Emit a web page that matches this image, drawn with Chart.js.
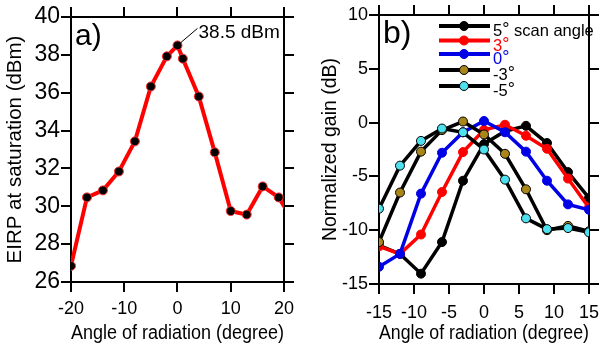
<!DOCTYPE html>
<html>
<head>
<meta charset="utf-8">
<script src="https://cdn.jsdelivr.net/npm/chart.js@4.4.0/dist/chart.umd.min.js"></script>
<style>
  html, body { margin: 0; padding: 0; background: #fff; }
  .panel { position: absolute; top: 0; height: 346px; }
  #boxA { left: 0; width: 300px; }
  #boxB { left: 300px; width: 307px; }
</style>
</head>
<body>
<div class="panel" id="boxA"><canvas id="chartA"></canvas></div>
<div class="panel" id="boxB"><canvas id="chartB"></canvas></div>
<script>
// --- Data panel a) ---
const anglesA = [-20, -17, -14, -11, -8, -5, -2, 0, 1, 4, 7, 10, 13, 16, 19, 22];
const eirp    = [26.85, 30.47, 30.84, 31.84, 33.43, 36.33, 37.92, 38.5, 37.8, 35.8, 32.85, 29.75, 29.56, 31.05, 30.47, 29.1];
const ticksA_x = [-20, -10, 0, 10, 20];
const ticksA_y = [26, 28, 30, 32, 34, 36, 38, 40];

// --- Data panel b) ---
const anglesB = [-15, -12, -9, -6, -3, 0, 3, 6, 9, 12, 15];
const scan5   = [-11.4, -12.2, -14.04, -11.1, -5.4, -2.0, -0.8, -0.3, -1.9, -4.6, -7.0];
const scan3   = [-11.5, -12.2, -10.4, -6.45, -2.74, -0.67, -0.2, -1.22, -2.43, -5.2, -7.9];
const scan0   = [-13.4, -12.2, -6.6, -2.8, -0.9, 0.15, -0.9, -2.7, -5.4, -7.6, -8.1];
const scanM3  = [-11.1, -6.5, -2.7, -0.7, 0.1, -1.1, -2.9, -6.2, -10.0, -9.6, -10.1];
const scanM5  = [-8.0, -4.0, -1.7, -0.55, -0.9, -2.5, -5.3, -8.9, -9.9, -9.8, -10.2];
const legendLabels = ['5', '3', '0', '-3', '-5'];
const ticksB_x = [-15, -10, -5, 0, 5, 10, 15];
const ticksB_y = [-15, -10, -5, 0, 5, 10];

const FONT = 'Liberation Sans, Arial, sans-serif';

function toPoints(xs, ys) {
    return xs.map((x, i) => ({ x: x, y: ys[i] }));
}

// fixed tick list from the arrays
function fixedTicks(list) {
    return function (scale) {
        scale.ticks = list.map(v => ({ value: v }));
    };
}

function sizeTo(px) {
    return function (scale) {
        if (scale.isHorizontal()) scale.height = px;
        else scale.width = px;
    };
}

// common axis style: outward ticks, no grid in the plot
function axis(extra) {
    const base = {
        type: 'linear',
        grid: { drawOnChartArea: false, color: '#000', lineWidth: 2, tickLength: 10 },
        border: { display: true, color: '#000', width: 2 },
        ticks: { color: '#000' }
    };
    return Object.assign(base, extra);
}

// --- Panel label / annotation plugin ---
const panelText = {
    id: 'panelText',
    afterDraw(chart, args, opts) {
        const ctx = chart.ctx;
        const area = chart.chartArea;
        ctx.save();
        ctx.fillStyle = '#000';
        ctx.textBaseline = 'alphabetic';
        ctx.font = opts.size + 'px ' + FONT;
        ctx.fillText(opts.label, area.left + opts.dx, area.top + opts.dy);

        if (opts.peak) {
            const px = chart.scales.x.getPixelForValue(opts.peak.x);
            const py = chart.scales.y.getPixelForValue(opts.peak.y);
            ctx.strokeStyle = '#000';
            ctx.lineWidth = 1;
            ctx.beginPath();
            ctx.moveTo(px, py);
            ctx.lineTo(px + 20, py - 17);
            ctx.stroke();
            ctx.font = '19px ' + FONT;
            ctx.fillText(opts.peak.text, px + 21, py - 7);
        }
        ctx.restore();
    }
};

// --- Legend for panel b) drawn at the top of the plot ---
const legendB = {
    id: 'legendB',
    afterDraw(chart) {
        const ctx = chart.ctx;
        const area = chart.chartArea;
        const rows = [11, 25.5, 39, 55, 71];
        const x0 = area.left + 60, x1 = area.left + 111, xm = area.left + 85;
        ctx.save();
        chart.data.datasets.forEach((ds, i) => {
            const y = area.top + rows[i];
            ctx.strokeStyle = ds.borderColor;
            ctx.lineWidth = 4;
            ctx.beginPath();
            ctx.moveTo(x0, y);
            ctx.lineTo(x1, y);
            ctx.stroke();
            ctx.beginPath();
            ctx.arc(xm, y, 4.5, 0, Math.PI * 2);
            ctx.fillStyle = ds.pointBackgroundColor;
            ctx.fill();
            ctx.lineWidth = 1;
            ctx.strokeStyle = ds.pointBorderColor;
            ctx.stroke();

            const tx = area.left + 114;
            const ty = y + 10;
            ctx.fillStyle = ds.textColor;
            ctx.font = '16.5px ' + FONT;
            ctx.textBaseline = 'alphabetic';
            ctx.fillText(legendLabels[i], tx, ty);
            let w = ctx.measureText(legendLabels[i]).width;
            ctx.font = '18px ' + FONT;
            ctx.fillText('°', tx + w, ty - 1);
            w += ctx.measureText('°').width;
            if (i === 0) {
                ctx.font = '16.5px ' + FONT;
                ctx.fillText(' scan angle', tx + w, ty);
            }
        });
        ctx.restore();
    }
};

Chart.defaults.font.family = FONT;
Chart.defaults.color = '#000';
Chart.defaults.animation = false;

// --- Chart a) ---
new Chart(document.getElementById('chartA'), {
    type: 'line',
    data: {
        datasets: [{
            data: toPoints(anglesA, eirp),
            borderColor: '#ff0000',
            borderWidth: 4,
            pointRadius: 4.5,
            pointBackgroundColor: '#000',
            pointBorderColor: '#ff3030',
            pointBorderWidth: 1,
            tension: 0
        }]
    },
    options: {
        responsive: true,
        maintainAspectRatio: false,
        layout: { padding: 0 },
        plugins: {
            legend: { display: false },
            tooltip: { enabled: false },
            panelText: { label: 'a)', size: 30, dx: 4, dy: 28,
                         peak: { x: 0, y: 38.5, text: '38.5 dBm' } }
        },
        scales: {
            x: axis({
                position: 'bottom', min: -20, max: 20,
                afterBuildTicks: fixedTicks(ticksA_x), afterFit: sizeTo(64),
                ticks: { color: '#000', font: { size: 18 }, padding: 6, maxRotation: 0 },
                title: { display: true, text: 'Angle of radiation (degree)', font: { size: 19.5 }, padding: { top: 0, bottom: 1 } }
            }),
            y: axis({
                position: 'left', min: 26, max: 40,
                afterBuildTicks: fixedTicks(ticksA_y), afterFit: sizeTo(71),
                ticks: { color: '#000', font: { size: 23 }, padding: 1 },
                title: { display: true, text: 'EIRP at saturation (dBm)', font: { size: 20.5 }, padding: { top: 3, bottom: 0 } }
            }),
            x2: axis({
                position: 'top', min: -20, max: 20,
                afterBuildTicks: fixedTicks(ticksA_x), afterFit: sizeTo(17),
                ticks: { display: false }
            }),
            y2: axis({
                position: 'right', min: 26, max: 40,
                afterBuildTicks: fixedTicks(ticksA_y), afterFit: sizeTo(13),
                ticks: { display: false }
            })
        }
    },
    plugins: [panelText]
});

// --- Chart b) ---
function series(values, line, fill, edge, textColor, order) {
    return {
        data: toPoints(anglesB, values),
        borderColor: line,
        borderWidth: 3.5,
        pointRadius: 4.5,
        pointBackgroundColor: fill,
        pointBorderColor: edge,
        pointBorderWidth: 1,
        textColor: textColor,
        order: order,
        tension: 0
    };
}

new Chart(document.getElementById('chartB'), {
    type: 'line',
    data: {
        datasets: [
            series(scan5,  '#000000', '#000000', '#000000', '#000000', 5),
            series(scan3,  '#ff0000', '#ff0000', '#ff0000', '#ff0000', 4),
            series(scan0,  '#0000e6', '#0000e6', '#0000e6', '#0000e6', 3),
            series(scanM3, '#000000', '#a8861a', '#000000', '#000000', 2),
            series(scanM5, '#000000', '#4ee0ee', '#000000', '#000000', 1)
        ]
    },
    options: {
        responsive: true,
        maintainAspectRatio: false,
        layout: { padding: 0 },
        plugins: {
            legend: { display: false },
            tooltip: { enabled: false },
            panelText: { label: 'b)', size: 32, dx: 4, dy: 28 }
        },
        scales: {
            x: axis({
                position: 'bottom', min: -15, max: 15,
                afterBuildTicks: fixedTicks(ticksB_x), afterFit: sizeTo(62),
                ticks: { color: '#000', font: { size: 18 }, padding: 8, maxRotation: 0 },
                title: { display: true, text: 'Angle of radiation (degree)', font: { size: 19.5 }, padding: { top: 0, bottom: 1 } }
            }),
            y: axis({
                position: 'left', min: -15, max: 10,
                afterBuildTicks: fixedTicks(ticksB_y), afterFit: sizeTo(79),
                ticks: { color: '#000', font: { size: 18 }, padding: 1 },
                title: { display: true, text: 'Normalized gain (dB)', font: { size: 19.5 }, padding: { top: 19, bottom: 0 } }
            }),
            x2: axis({
                position: 'top', min: -15, max: 15,
                afterBuildTicks: fixedTicks(ticksB_x), afterFit: sizeTo(15),
                ticks: { display: false }
            }),
            y2: axis({
                position: 'right', min: -15, max: 10,
                afterBuildTicks: fixedTicks(ticksB_y), afterFit: sizeTo(9.3),
                ticks: { display: false }
            })
        }
    },
    plugins: [panelText, legendB]
});
</script>
</body>
</html>
